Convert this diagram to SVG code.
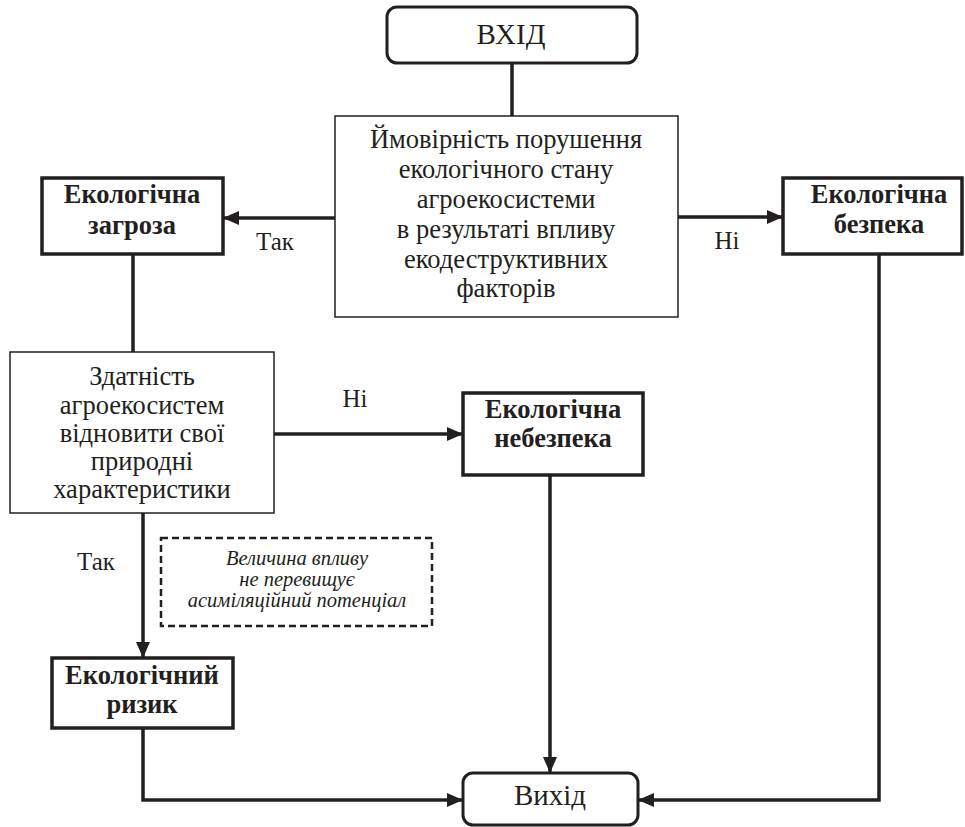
<svg xmlns="http://www.w3.org/2000/svg" width="965" height="827" viewBox="0 0 965 827">
<defs>
<marker id="ah" markerUnits="userSpaceOnUse" markerWidth="16" markerHeight="14" refX="15" refY="7" orient="auto">
<path d="M0,0 L16,7 L0,14 Z" fill="#231f20"/>
</marker>
<style>
.t{font-family:"Liberation Serif","Times New Roman",serif;font-size:26.5px;fill:#231f20;text-anchor:middle}
.b{font-weight:bold}
.i{font-style:italic;font-size:20.5px}
.l{font-size:25px}
.thin{fill:#fff;stroke:#231f20;stroke-width:1.5}
.thick{fill:#fff;stroke:#231f20;stroke-width:3.5}
.rnd{fill:#fff;stroke:#231f20;stroke-width:3}
.dash{fill:none;stroke:#231f20;stroke-width:2.5;stroke-dasharray:7,4}
.c{fill:none;stroke:#231f20;stroke-width:3.5}
.ca{fill:none;stroke:#231f20;stroke-width:3.5;marker-end:url(#ah)}
</style>
</defs>
<rect width="965" height="827" fill="#fff"/>
<g id="connectors">
<path class="c" d="M512,63 V116"/>
<path class="ca" d="M335,218 H224"/>
<path class="ca" d="M678,217 H782"/>
<path class="c" d="M133,254 V352"/>
<path class="ca" d="M274,434 H462"/>
<path class="ca" d="M143,513 V657"/>
<path class="ca" d="M550,475 V772"/>
<path class="ca" d="M143,728 V800 H462"/>
<path class="ca" d="M879,254 V800 H639"/>
</g>
<g id="labels">
<text class="t l" x="275" y="250">Так</text>
<text class="t l" x="727" y="249">Ні</text>
<text class="t l" x="355" y="407">Ні</text>
<text class="t l" x="96" y="570">Так</text>
</g>
<g id="vhid">
<rect class="rnd" x="387" y="7" width="250" height="56" rx="10"/>
<text class="t" x="511" y="44" style="font-size:29px">ВХІД</text>
</g>
<g id="imovirnist">
<rect class="thin" x="335" y="116" width="343" height="201"/>
<text class="t" x="506" y="148">Ймовірність порушення</text>
<text class="t" x="506" y="178">екологічного стану</text>
<text class="t" x="506" y="208">агроекосистеми</text>
<text class="t" x="506" y="238">в результаті впливу</text>
<text class="t" x="506" y="268">екодеструктивних</text>
<text class="t" x="506" y="297">факторів</text>
</g>
<g id="zagroza">
<rect class="thick" x="42" y="178" width="181" height="76"/>
<text class="t b" x="132" y="203">Екологічна</text>
<text class="t b" x="132" y="234">загроза</text>
</g>
<g id="bezpeka">
<rect class="thick" x="783" y="178" width="179" height="76"/>
<text class="t b" x="879" y="203">Екологічна</text>
<text class="t b" x="879" y="233">безпека</text>
</g>
<g id="zdatnist">
<rect class="thin" x="10" y="352" width="264" height="161"/>
<text class="t" x="142" y="385">Здатність</text>
<text class="t" x="142" y="414">агроекосистем</text>
<text class="t" x="142" y="442">відновити свої</text>
<text class="t" x="142" y="470">природні</text>
<text class="t" x="142" y="498">характеристики</text>
</g>
<g id="nebezpeka">
<rect class="thick" x="463" y="393" width="180" height="82"/>
<text class="t b" x="553" y="418">Екологічна</text>
<text class="t b" x="553" y="447">небезпека</text>
</g>
<g id="vplyv">
<rect class="dash" x="161" y="538" width="271" height="88"/>
<text class="t i" x="297" y="565">Величина впливу</text>
<text class="t i" x="297" y="586">не перевищує</text>
<text class="t i" x="297" y="607">асиміляційний потенціал</text>
</g>
<g id="ryzyk">
<rect class="thick" x="52" y="658" width="181" height="70"/>
<text class="t b" x="142" y="684">Екологічний</text>
<text class="t b" x="142" y="713">ризик</text>
</g>
<g id="vyhid">
<rect class="rnd" x="463" y="773" width="175" height="52" rx="10"/>
<text class="t" x="550" y="805" style="font-size:29px">Вихід</text>
</g>
</svg>
